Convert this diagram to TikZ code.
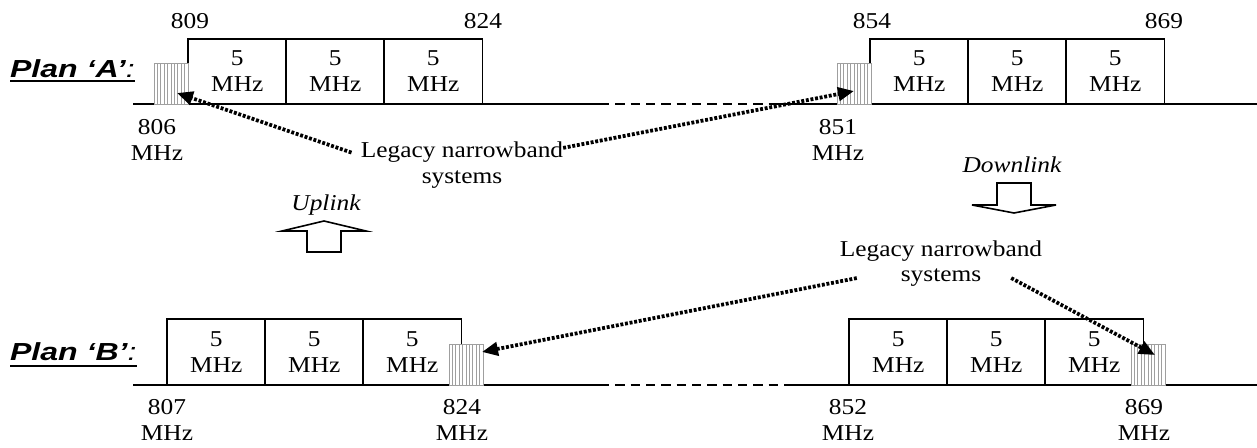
\documentclass[tikz,border=0pt]{standalone}
\usepackage{fontspec}
\setmainfont{Liberation Serif}[FakeStretch=1.12]
\newfontfamily\plansans{Liberation Sans}[FakeStretch=1.3]
\usetikzlibrary{arrows.meta}
\begin{document}
\begin{tikzpicture}[x=0.75pt,y=-0.75pt,
  every node/.style={font=\fontsize{17pt}{19.5pt}\selectfont, inner sep=0pt, outer sep=0pt},
  band/.style={draw, line width=1.3pt, fill=white, minimum width=73.9pt, minimum height=48.75pt, anchor=south west, align=center},
  hatchbox/.style={draw=gray!75, line width=0.7pt, fill=white, minimum width=25.5pt, minimum height=30.75pt, anchor=south west,
    path picture={\foreach \k in {1,...,9}{\draw[gray!75,line width=0.6pt] ([xshift=\k*2.55pt]path picture bounding box.south west) -- ([xshift=\k*2.55pt]path picture bounding box.north west);}}},
  freq/.style={align=center},
  planlbl/.style={font=\plansans\fontsize{18.5pt}{20pt}\selectfont, anchor=base west},
  axis/.style={line width=1.3pt},
  gap/.style={line width=2pt, dash pattern=on 7pt off 4.5pt},
  dotarrow/.style={line width=2.8pt, dash pattern=on 2.2pt off 1.3pt, -{Triangle[length=12pt,width=10pt]}},
  blockarrow/.style={draw, line width=1.2pt, fill=white, line join=miter}
]
\useasboundingbox (0,0) rectangle (1257,448);

% ---------- Plan A ----------
\node[planlbl] (pa) at (10,78) {{\bfseries\itshape Plan ‘A’}\textit{:}};
\draw[line width=1.5pt] ([yshift=-2.5pt]pa.base west) -- ([yshift=-2.5pt]pa.base east);
\draw[axis] (133,104) -- (600,104);
\draw[gap] (600,104) -- (777,104);
\draw[axis] (777,104) -- (1257,104);

\node[band] (a1) at (188,104) {5\\MHz};
\node[band] (a2) at (286,104) {5\\MHz};
\node[band] (a3) at (384,104) {5\\MHz};
\node[band] (a4) at (870,104) {5\\MHz};
\node[band] (a5) at (968,104) {5\\MHz};
\node[band] (a6) at (1066,104) {5\\MHz};
\node[hatchbox] (h1) at (154,104) {};
\node[hatchbox] (h2) at (837,104) {};

\node (n809) at (190,21) {809};
\node (n824a) at (483,21) {824};
\node (n854) at (872,21) {854};
\node (n869a) at (1164,21) {869};
\node[freq] (n806) at (157,139.5) {806\\MHz};
\node[freq] (n851) at (838,139.5) {851\\MHz};

\node[anchor=base] (leg1a) at (462,158) {Legacy narrowband};
\node[anchor=base] (leg1b) at (462,184) {systems};
\draw[dotarrow] ([xshift=-7pt]leg1a.west) -- ([shift={(6,9.5)}]h1.center);
\draw[dotarrow] ([yshift=3.5pt]leg1a.east) -- ([shift={(0,7.5)}]h2.center);

% ---------- Uplink / Downlink ----------
\node[anchor=base, font=\fontsize{17pt}{19.5pt}\selectfont\itshape] (up) at (326,211) {Uplink};
\draw[blockarrow] (324,221) -- (366,231) -- (341,231) -- (341,252) -- (307,252) -- (307,231) -- (282,231) -- cycle;
\node[anchor=base, font=\fontsize{17pt}{19.5pt}\selectfont\itshape] (down) at (1012,173) {Downlink};
\draw[blockarrow] (1014,213) -- (1056,205) -- (1031,205) -- (1031,183) -- (997,183) -- (997,205) -- (972,205) -- cycle;

% ---------- Plan B ----------
\node[planlbl] (pb) at (10,361) {{\bfseries\itshape Plan ‘B’}\textit{:}};
\draw[line width=1.5pt] ([yshift=-3.5pt]pb.base west) -- ([yshift=-3.5pt]pb.base east);
\draw[axis] (133,385) -- (600,385);
\draw[gap] (600,385) -- (790,385);
\draw[axis] (790,385) -- (1257,385);

\node[band, minimum height=49.5pt] (b1) at (167,385) {5\\MHz};
\node[band, minimum height=49.5pt] (b2) at (265,385) {5\\MHz};
\node[band, minimum height=49.5pt] (b3) at (363,385) {5\\MHz};
\node[band, minimum height=49.5pt] (b4) at (849,385) {5\\MHz};
\node[band, minimum height=49.5pt] (b5) at (947,385) {5\\MHz};
\node[band, minimum height=49.5pt] (b6) at (1045,385) {5\\MHz};
\node[hatchbox] (h3) at (449,385) {};
\node[hatchbox] (h4) at (1131,385) {};

\node[freq] (n807) at (167,419.5) {807\\MHz};
\node[freq] (n824b) at (462,419.5) {824\\MHz};
\node[freq] (n852) at (848,419.5) {852\\MHz};
\node[freq] (n869b) at (1144,419.5) {869\\MHz};

\node[anchor=base] (leg2a) at (941,257) {Legacy narrowband};
\node[anchor=base] (leg2b) at (941,282) {systems};
\draw[dotarrow] ([xshift=-33pt]leg2b.west) -- ([shift={(-1,-12.5)}]h3.east);
\draw[dotarrow] ([xshift=22.5pt]leg2b.east) -- ([shift={(7,-9.5)}]h4.center);
\end{tikzpicture}
\end{document}
